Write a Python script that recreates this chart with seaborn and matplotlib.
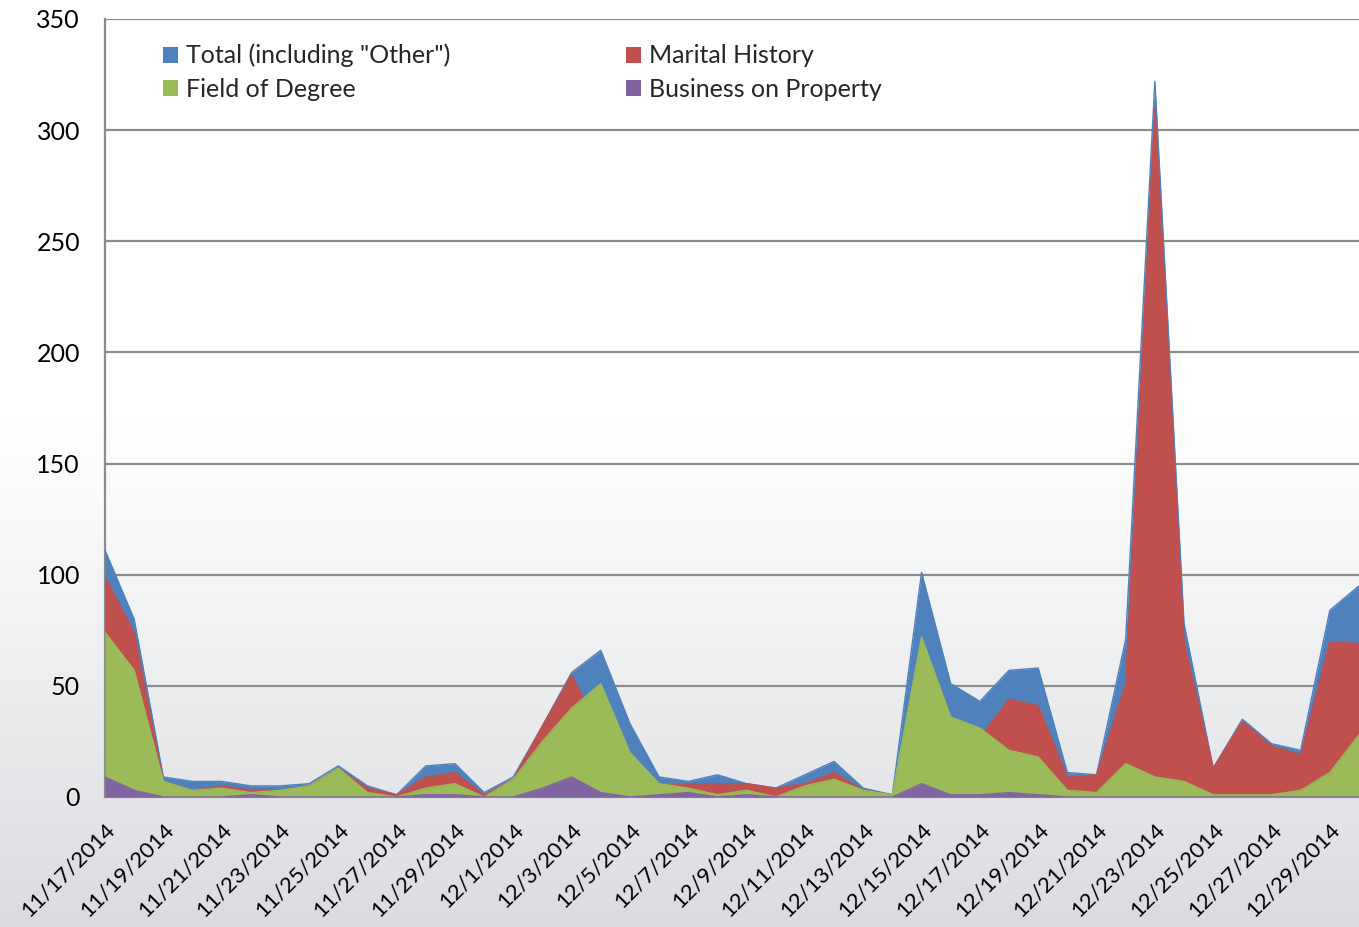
import matplotlib
matplotlib.use("Agg")
import matplotlib.pyplot as plt
import matplotlib.transforms as mtransforms
import numpy as np
import pandas as pd
import seaborn as sns

# daily counts, 11/17/2014 .. 12/30/2014
dates = pd.date_range("2014-11-17", "2014-12-30", freq="D")
total = [111, 80, 9, 7, 7, 5, 5, 6, 14, 5, 1, 14, 15, 2, 9, 32, 56, 66, 33, 9, 7, 10,
         6, 4, 10, 16, 4, 1, 101, 51, 43, 57, 58, 11, 10, 71, 322, 78, 13, 35, 24, 21, 84, 95]
marital = [99, 74, 7, 3, 5, 3, 3, 5, 13, 4, 1, 9, 11, 1, 8, 32, 55, 29, 12, 5, 6, 6,
           6, 4, 6, 11, 3, 1, 1, 20, 27, 44, 41, 9, 10, 51, 310, 70, 13, 34, 23, 19, 70, 69]
field = [74, 57, 7, 3, 4, 2, 3, 5, 13, 2, 0, 4, 6, 0, 8, 25, 40, 51, 20, 6, 4, 1,
         3, 0, 5, 8, 3, 1, 72, 36, 31, 21, 18, 3, 2, 15, 9, 7, 1, 1, 1, 3, 11, 28]
business = [9, 3, 0, 0, 0, 1, 0, 0, 0, 0, 0, 1, 1, 0, 0, 4, 9, 2, 0, 1, 2, 0,
            1, 0, 0, 0, 0, 0, 6, 1, 1, 2, 1, 0, 0, 0, 0, 0, 0, 0, 0, 0, 0, 0]

series = [
    ('Total (including "Other")', total, "#4F81BD"),
    ("Marital History", marital, "#C0504D"),
    ("Field of Degree", field, "#9BBB59"),
    ("Business on Property", business, "#8064A2"),
]

sns.set_style("white")
plt.rcParams["font.family"] = ["Lato", "DejaVu Sans"]

fig = plt.figure(figsize=(13.59, 9.27), dpi=100)

# background gradient over the whole figure
bg = fig.add_axes([0, 0, 1, 1], zorder=-10)
t = np.linspace(0, 1, 256)
shade = np.clip((t - 0.45) / 0.55, 0, 1) ** 1.1
top = np.array([1.0, 1.0, 1.0])
bottom = np.array([0.855, 0.862, 0.875])
grad = top[None, :] * (1 - shade[:, None]) + bottom[None, :] * shade[:, None]
bg.imshow(grad[:, None, :], aspect="auto", extent=[0, 1, 0, 1])
bg.axis("off")

ax = fig.add_axes([105 / 1359, 130 / 927, 1 - 105 / 1359, 778 / 927])
ax.patch.set_alpha(0)

x = np.arange(len(dates))
df = pd.DataFrame({"x": x})
for k, (name, vals, color) in enumerate(series):
    df[name] = vals
    ax.fill_between(x, 0, vals, color=color, linewidth=0, label=name, zorder=3 + 2 * k)
    sns.lineplot(data=df, x="x", y=name, ax=ax, color=color, linewidth=1,
                 legend=False, zorder=3.5 + 2 * k)

ax.set_xlim(0, len(dates) - 1)
ax.set_ylim(0, 350)
ax.set_yticks(range(0, 351, 50))
ax.yaxis.grid(True, color="#8c8c8c", linewidth=1.6)
ax.set_axisbelow(True)
ax.set_xlabel("")
ax.set_ylabel("")

ticks = x[::2]
ax.set_xticks(ticks)
labels = [f"{d.month}/{d.day}/{d.year}" for d in dates[::2]]
ax.set_xticklabels(labels, rotation=45, ha="right", va="top", rotation_mode="anchor")
offset = mtransforms.ScaledTranslation(3 / 100, -2 / 100, fig.dpi_scale_trans)
for lab in ax.get_xticklabels():
    lab.set_transform(lab.get_transform() + offset)

ax.tick_params(axis="both", which="major", length=8, width=1.3, color="#8c8c8c",
               labelsize=18, labelcolor="black", direction="out")
ax.tick_params(axis="x", pad=8, labelsize=16)
ax.tick_params(axis="y", pad=10)
for side in ["top", "right"]:
    ax.spines[side].set_visible(False)
for side in ["left", "bottom"]:
    ax.spines[side].set_color("#8c8c8c")
    ax.spines[side].set_linewidth(1.6)

handles, names = ax.get_legend_handles_labels()
order = [0, 2, 1, 3]
ax.legend([handles[i] for i in order], [names[i] for i in order], ncol=2,
          loc="upper left", bbox_to_anchor=(0.028, 0.997), frameon=False,
          fontsize=18, handlelength=0.6, handleheight=0.6, handletextpad=0.35,
          columnspacing=7.0, labelspacing=0.42)

fig.savefig("out.png", dpi=100)
